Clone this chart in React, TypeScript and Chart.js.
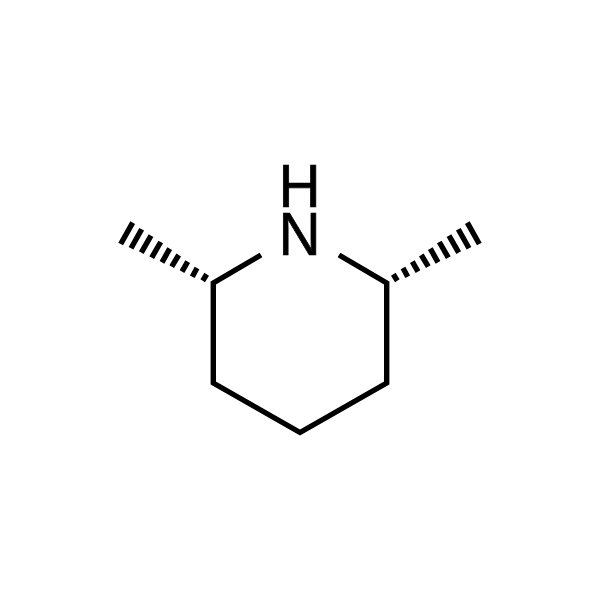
import React, { useEffect, useRef } from "react";
import { Chart, registerables } from "chart.js";

Chart.register(...registerables);

// ring bonds, from the N on the left round to the N on the right
const ringX = [261, 213.3, 213.3, 300, 386.7, 386.7, 339];
const ringY = [255, 283, 383, 432.5, 383, 283, 255];

// hashed bonds, one stroke per pair, null breaks the line
const hashLeftX = [120.7, 132.7, null, 131, 141.7, null, 141.3, 151, null, 151.7, 160.7, null, 162, 169.7, null, 171.7, 178.7, null, 182, 187.7, null, 192.3, 197, null, 202.7, 206.7];
const hashLeftY = [244, 222.7, null, 248.3, 229.3, null, 252.7, 235.7, null, 257.7, 242, null, 262.3, 248.7, null, 266.7, 255, null, 271.7, 261.7, null, 276.7, 268, null, 280.7, 274.3];
const hashRightX = [479.3, 467.3, null, 469, 458.3, null, 458.7, 449, null, 448.3, 439.3, null, 438, 430.3, null, 428.3, 421.3, null, 418, 412.3, null, 407.7, 403, null, 397.3, 393.3];
const hashRightY = [244, 222.7, null, 248.3, 229.3, null, 252.7, 235.7, null, 257.7, 242, null, 262.3, 248.7, null, 266.7, 255, null, 271.7, 261.7, null, 276.7, 268, null, 280.7, 274.3];

const atomLabels = ["H", "N"];
const atomX = [299.5, 299.5];
const atomY = [207, 255];

const toPoints = (xs: (number | null)[], ys: (number | null)[]) =>
  xs.map((x, i) => ({ x, y: ys[i] }));

const atomLabelPlugin = {
  id: "atomLabels",
  afterDatasetsDraw(chart: any) {
    const { ctx, scales } = chart;
    atomLabels.forEach((label, i) => {
      ctx.save();
      ctx.fillStyle = "#000";
      ctx.strokeStyle = "#000";
      ctx.lineWidth = 0.7;
      ctx.font = '62px "Liberation Sans"';
      ctx.textAlign = "center";
      ctx.textBaseline = "alphabetic";
      // the glyphs in the picture are a little narrower than the font
      ctx.translate(scales.x.getPixelForValue(atomX[i]), scales.y.getPixelForValue(atomY[i]));
      ctx.scale(0.94, 1);
      ctx.fillText(label, 0, 0);
      ctx.strokeText(label, 0, 0);
      ctx.restore();
    });
  },
};

export default function App() {
  const chartRef = useRef<HTMLCanvasElement>(null);

  useEffect(() => {
    if (!chartRef.current) return;
    document.body.style.margin = "0";

    const line = (xs: (number | null)[], ys: (number | null)[], width: number) => ({
      data: toPoints(xs, ys),
      showLine: true,
      spanGaps: false,
      borderColor: "#000",
      borderWidth: width,
      borderJoinStyle: "miter" as const,
      borderCapStyle: "butt" as const,
      pointRadius: 0,
      tension: 0,
    });

    const chart = new Chart(chartRef.current, {
      type: "scatter",
      data: {
        datasets: [
          line(ringX, ringY, 5.4),
          line(hashLeftX, hashLeftY, 5.4),
          line(hashRightX, hashRightY, 5.4),
        ],
      },
      options: {
        responsive: false,
        animation: false,
        layout: { padding: 0 },
        plugins: { legend: { display: false }, tooltip: { enabled: false } },
        scales: {
          x: { type: "linear", min: 0, max: 600, display: false },
          y: { type: "linear", min: 0, max: 600, reverse: true, display: false },
        },
      },
      plugins: [atomLabelPlugin],
    });

    return () => chart.destroy();
  }, []);

  return <canvas ref={chartRef} width={600} height={600} style={{ display: "block" }} />;
}
